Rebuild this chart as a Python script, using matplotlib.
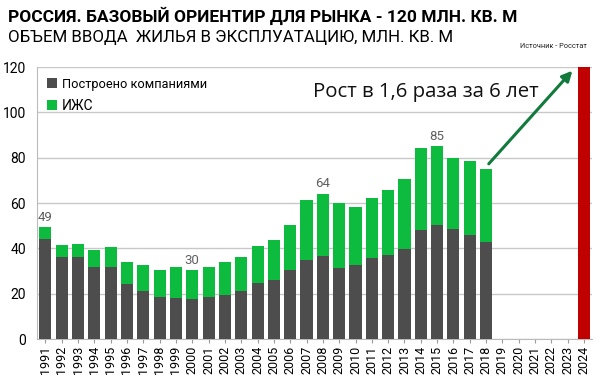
import matplotlib.pyplot as plt
import numpy as np

years = [str(y) for y in range(1991, 2025)]
companies = [44, 36.3, 36, 31.8, 31.8, 24.3, 21.3, 18.4, 18.1, 17.5, 18.4, 19.4, 21.3, 24.9, 26,
             30.6, 34.7, 36.7, 31.4, 32.9, 35.6, 37.2, 39.8, 48, 50.3, 48.5, 46, 42.8]
total = [49.3, 41.5, 41.8, 39.1, 40.8, 34.1, 32.8, 30.6, 31.9, 30.3, 31.7, 33.8, 36.4, 41, 43.5,
         50.5, 61.2, 64.2, 59.9, 58.4, 62.3, 65.7, 70.4, 84.1, 85.1, 80.1, 78.5, 75.2]
target_year = "2024"
target_value = 120
labelled = {"1991": 49, "2000": 30, "2008": 64, "2015": 85}

plt.rcParams['font.family'] = ['Roboto', 'DejaVu Sans']

dark = '#4d4d4d'
green = '#0dbb3f'
red = '#c00000'

ihs = [t - c for t, c in zip(total, companies)]
x = np.arange(len(years))
n = len(companies)

fig = plt.figure(figsize=(6, 3.81), dpi=100)
ax = fig.add_axes([0.062, 0.110, 0.925, 0.714])

ax.bar(x[:n], companies, width=0.74, color=dark, label='Построено компаниями', zorder=3)
ax.bar(x[:n], ihs, bottom=companies, width=0.74, color=green, label='ИЖС', zorder=3)
ti = years.index(target_year)
ax.bar(x[ti], target_value, width=0.74, color=red, zorder=3)

for yr, v in labelled.items():
    i = years.index(yr)
    ax.text(x[i], total[i] + 1.5, str(v), ha='center', va='bottom', fontsize=9.5, color='#606060')

ax.set_xlim(-0.5, len(years) - 0.5)
ax.set_ylim(0, 120)
ax.set_yticks(range(0, 121, 20))
ax.set_xticks(x)
ax.set_xticklabels(years, rotation=90, fontsize=9)
ax.tick_params(axis='y', labelsize=10, length=0, pad=8)
ax.tick_params(axis='x', length=3, color='#999999', pad=2)
ax.grid(axis='y', color='#c8c8c8', linewidth=1, zorder=0)
for s in ['top', 'right']:
    ax.spines[s].set_visible(False)
ax.spines['left'].set_color('#bbbbbb')
ax.spines['bottom'].set_color('#bbbbbb')

leg = ax.legend(loc='upper left', frameon=False, fontsize=10, handlelength=0.7, handleheight=0.7,
                handletextpad=0.4, labelspacing=0.55, borderaxespad=0.3, bbox_to_anchor=(0.0, 0.995))

# arrow from the 2018 bar to the 2024 target
ax.annotate('', xy=(x[ti] - 0.6, 119.3), xytext=(x[n - 1] + 0.05, total[-1] + 1.2),
            arrowprops=dict(arrowstyle='-|>,head_length=0.6,head_width=0.3', color='#127a3c', lw=2.2),
            zorder=5)
growth = fig.text(0.522, 0.758, 'Рост в 1,6 раза за 6 лет', fontsize=15.5,
                  family=['Open Sans', 'DejaVu Sans'], ha='left', va='center', color='#111111')

title = fig.text(0.013, 0.958, 'РОССИЯ. БАЗОВЫЙ ОРИЕНТИР ДЛЯ РЫНКА - 120 МЛН. КВ. М', fontsize=14,
                 fontweight='bold', va='center', ha='left')
sub = fig.text(0.013, 0.902, 'ОБЪЕМ ВВОДА  ЖИЛЬЯ В ЭКСПЛУАТАЦИЮ, МЛН. КВ. М', fontsize=13,
               va='center', ha='left')
src = fig.text(0.978, 0.878, 'Источник - Росстат', fontsize=6.5, va='center', ha='right',
               color='#222222')

# shrink texts to the widths seen in the reference
fig.canvas.draw()
r = fig.canvas.get_renderer()
for t, w in [(title, 510), (sub, 444), (src, 67), (growth, 227), (leg.get_texts()[0], 145)]:
    cur = t.get_window_extent(r).width
    t.set_fontsize(t.get_fontsize() * w / cur)

fig.savefig('out.png', dpi=100)
